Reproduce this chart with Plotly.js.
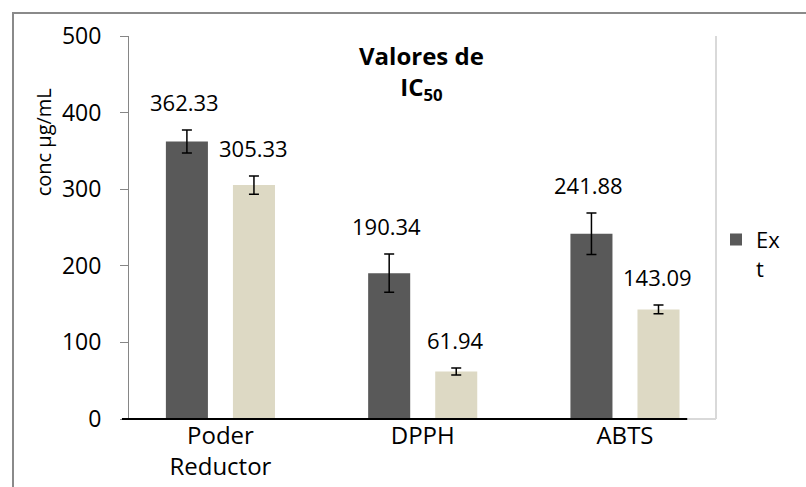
<!DOCTYPE html>
<html>
<head>
<meta charset="utf-8">
<script src="https://cdn.plot.ly/plotly-3.0.1.min.js"></script>
<style>
  html, body { margin: 0; padding: 0; background: #fff; }
  #wrap { position: relative; width: 806px; height: 487px; overflow: hidden; }
  #chart { position: absolute; left: 0; top: 0; width: 806px; height: 487px; }
  #frame { position: absolute; left: 12px; top: 12px; width: 900px; height: 600px;
           border-left: 2px solid #8a8a8a; border-top: 2px solid #8a8a8a; pointer-events: none; }
</style>
</head>
<body>
<div id="wrap">
  <div id="chart"></div>
  <div id="frame"></div>
</div>
<script>
// ---- data ----
const categories = ["Poder<br>Reductor", "DPPH", "ABTS"];
const seriesNames = ["Ex<br>t", ""];
const extValues = [362.33, 190.34, 241.88];
const extErrors = [15, 25, 27];
const secondValues = [305.33, 61.94, 143.09];
const secondErrors = [12, 4.6, 5.6];
const yTickValues = [0, 100, 200, 300, 400, 500];

const FONT = "Open Sans, Lato, sans-serif";
const darkColor = "#595959";
const beigeColor = "#DDD9C4";

const traces = [
  {
    type: "bar", name: seriesNames[0], x: categories, y: extValues,
    marker: { color: darkColor },
    error_y: { type: "data", array: extErrors, visible: true, color: "#000", thickness: 1.5, width: 5 },
    showlegend: true, hoverinfo: "y"
  },
  {
    type: "bar", name: seriesNames[1], x: categories, y: secondValues,
    marker: { color: beigeColor },
    error_y: { type: "data", array: secondErrors, visible: true, color: "#000", thickness: 1.5, width: 5 },
    showlegend: false, hoverinfo: "y"
  }
];

// data labels above error bars
const annotations = [];
categories.forEach((c, i) => {
  annotations.push({ x: c, y: extValues[i] + extErrors[i], xref: "x", yref: "y",
    text: extValues[i].toFixed(2), showarrow: false, xshift: -36, yshift: 28,
    xanchor: "center", yanchor: "middle", font: { family: FONT, size: 22, color: "#000" } });
  annotations.push({ x: c, y: secondValues[i] + secondErrors[i], xref: "x", yref: "y",
    text: secondValues[i].toFixed(2), showarrow: false, xshift: 33, yshift: 28,
    xanchor: "center", yanchor: "middle", font: { family: FONT, size: 22, color: "#000" } });
});
// chart title
annotations.push({ xref: "paper", yref: "paper", x: 0.499, y: 0.906, showarrow: false,
  xanchor: "center", yanchor: "middle",
  text: "<b>Valores de</b><br><b>IC<sub>50</sub></b>", align: "center",
  font: { family: FONT, size: 24, color: "#000" } });
// y-axis title
annotations.push({ xref: "paper", yref: "paper", x: -0.145, y: 0.722, showarrow: false,
  xanchor: "center", yanchor: "middle",
  text: "conc µg/mL", textangle: -90, font: { family: FONT, size: 20, color: "#000" } });

const layout = {
  width: 806, height: 487,
  margin: { l: 129, r: 90, t: 36, b: 68 },
  paper_bgcolor: "rgba(0,0,0,0)", plot_bgcolor: "#fff",
  barmode: "group", bargap: 0.337, bargroupgap: 0.373,
  showlegend: true,
  legend: { x: 1.0, xanchor: "left", y: 0.43, yanchor: "middle", valign: "top",
    font: { family: FONT, size: 22, color: "#000" }, bgcolor: "rgba(0,0,0,0)" },
  xaxis: {
    type: "category", range: [-0.452, 2.45], showline: false, ticks: "",
    tickfont: { family: FONT, size: 24, color: "#000" }, showgrid: false, zeroline: false
  },
  yaxis: {
    range: [0, 500], tickvals: yTickValues, ticktext: yTickValues.map(String),
    showline: true, linecolor: "#868686", linewidth: 1,
    ticks: "outside", ticklen: 8, tickcolor: "#868686", ticklabelstandoff: 14,
    tickfont: { family: FONT, size: 23, color: "#000" }, showgrid: false, zeroline: false
  },
  shapes: [
    { type: "line", xref: "paper", yref: "paper", x0: 1, x1: 1, y0: 0, y1: 1,
      line: { color: "#d9d9d9", width: 2 } },
    { type: "line", xref: "paper", yref: "paper", x0: 0.95, x1: 1, y0: 0, y1: 0,
      line: { color: "#d9d9d9", width: 2 } },
    { type: "line", xref: "paper", yref: "paper", x0: -0.012, x1: 0.951, y0: 0, y1: 0,
      line: { color: "#000", width: 2 } }
  ],
  annotations: annotations
};

Plotly.newPlot("chart", traces, layout, { displayModeBar: false, staticPlot: true });
</script>
</body>
</html>
